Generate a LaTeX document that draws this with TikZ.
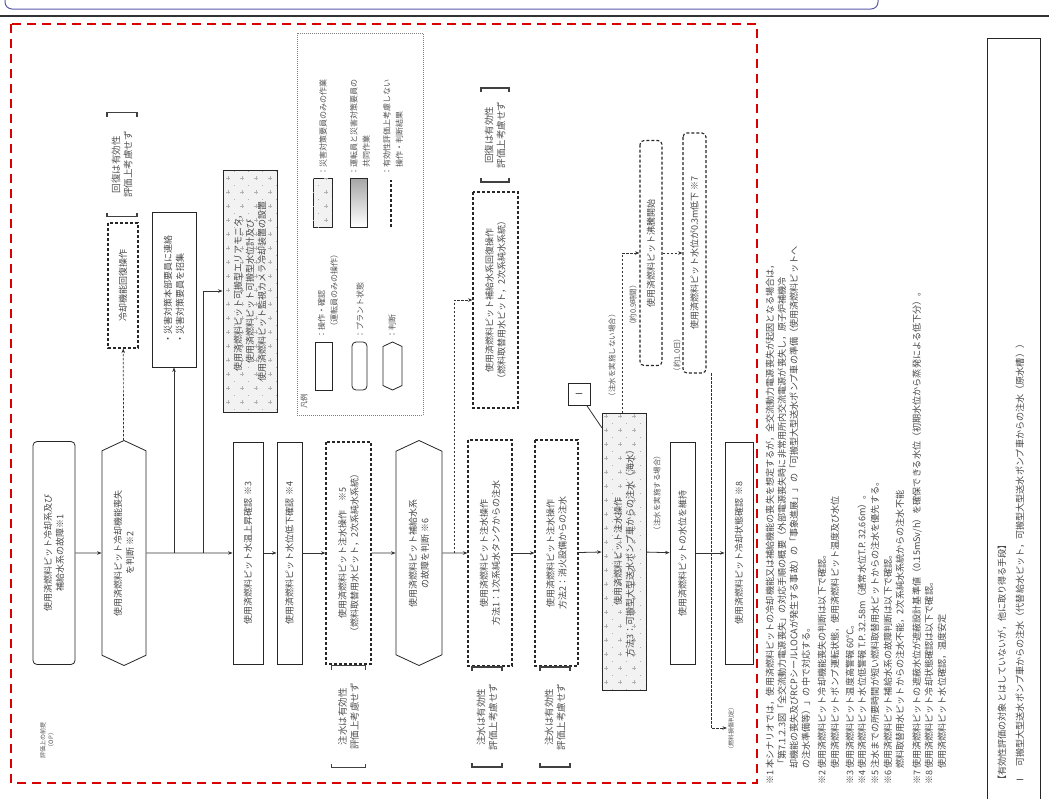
\documentclass[tikz,border=0pt]{standalone}
\usepackage{fontspec}
\setmainfont{Noto Sans CJK JP}
\usetikzlibrary{arrows.meta,shapes.symbols,patterns,calc}
\pgfdeclarepatternformonly{sparseplus}{\pgfpoint{-1pt}{-1pt}}{\pgfpoint{15pt}{15pt}}{\pgfpoint{14pt}{14pt}}{%
  \pgfsetlinewidth{0.4pt}%
  \pgfpathmoveto{\pgfpoint{2pt}{4pt}}\pgfpathlineto{\pgfpoint{6pt}{4pt}}%
  \pgfpathmoveto{\pgfpoint{4pt}{2pt}}\pgfpathlineto{\pgfpoint{4pt}{6pt}}%
  \pgfpathmoveto{\pgfpoint{10pt}{11pt}}\pgfpathlineto{\pgfpoint{11pt}{11pt}}%
  \pgfusepath{stroke}}
\newcommand{\bnote}[6]{%
  \node[notetext] (#1) at (#2,#3) {#6};
  \draw[brk] (#2-#4,#3-#5+4) -- (#2-#4,#3-#5) -- (#2+#4,#3-#5) -- (#2+#4,#3-#5+4);
  \draw[brk] (#2-#4,#3+#5-4) -- (#2-#4,#3+#5) -- (#2+#4,#3+#5) -- (#2+#4,#3+#5-4);
}
\tikzset{
  box/.style={draw=black!85, line width=0.8pt, rotate=90, align=center, inner sep=1pt,
    font=\fontsize{9}{12}\selectfont, text=black!72},
  dbox/.style={box, dash pattern=on 3pt off 2pt, line width=1.1pt},
  rbox/.style={box, rounded corners=4pt},
  drbox/.style={dbox, rounded corners=4pt},
  hexbox/.style={box, shape=signal, signal to=east and west, signal pointer angle=130},
  dotfill/.style={fill=gray!10, postaction={pattern=sparseplus, pattern color=gray!60}},
  flow/.style={draw=black!80, line width=0.8pt, -{Stealth[length=4.5pt,width=3.5pt]}},
  dflow/.style={flow, dash pattern=on 2.5pt off 1.5pt, line width=0.7pt},
  plain/.style={draw=black!80, line width=0.8pt},
  notetext/.style={rotate=90, align=center, inner sep=1pt, font=\fontsize{9.5}{12}\selectfont, text=black!68},
  lab/.style={rotate=90, inner sep=1pt, font=\fontsize{7.5}{9}\selectfont, text=black!68},
  brk/.style={draw=black!75, line width=1.1pt},
  legtext/.style={rotate=90, anchor=west, align=left, inner sep=1pt, font=\fontsize{8}{12.5}\selectfont, text=black!68},
  foot/.style={rotate=90, anchor=west, inner sep=0pt, font=\fontsize{9.1}{11}\selectfont, text=black!72},
  redframe/.style={draw=red!85!black, line width=2.6pt, dash pattern=on 9pt off 6pt},
}
\begin{document}
\begin{tikzpicture}[x=1pt,y=-1pt]
\useasboundingbox (0,0) rectangle (1049,798);
% top header
\draw[draw=blue!30!gray, line width=1pt, rounded corners=7pt] (5,-20) rectangle (878,9);
\draw[black!80, line width=1.3pt] (0,16) -- (1049,16);
% red frame
\draw[redframe] (11,24) rectangle (757,783);

% ---- main flow ----
\node[rbox, minimum width=223pt, minimum height=42pt] (b1) at (54,553) {使用済燃料ピット冷却系及び\\補給水系の故障※1};
\node[hexbox, minimum width=225pt, minimum height=44pt] (h2) at (124,553) {使用済燃料ピット冷却機能喪失\\を判断 ※2};
\node[dbox, minimum width=125pt, minimum height=30pt] (c1) at (123,285.5) {冷却機能回復操作};
\bnote{n1}{122}{164.5}{15}{52}{回復は有効性\\評価上考慮せず}
\node[box, minimum width=155pt, minimum height=44pt, align=left] (bren) at (174,289.5) {・災害対策本部要員に連絡\\・災害対策要員を招集};
\node[box, dotfill, minimum width=242pt, minimum height=54pt] (bmon) at (250,291) {使用済燃料ピット可搬型エリアモニタ，\\使用済燃料ピット可搬型水位計及び\\使用済燃料ピット監視カメラ冷却装置の設置};
\node[box, minimum width=222pt, minimum height=30pt] (b3) at (248,553) {使用済燃料ピット水温上昇確認 ※3};
\node[box, minimum width=222pt, minimum height=25pt] (b4) at (289.5,553) {使用済燃料ピット水位低下確認 ※4};
\node[dbox, minimum width=222pt, minimum height=45pt] (b5) at (348.5,553) {使用済燃料ピット注水操作　※5\\（燃料取替用水ピット，2次系純水系統）};
\bnote{n5}{348.5}{716.5}{17}{51}{注水は有効性\\評価上考慮せず}
\node[hexbox, minimum width=225pt, minimum height=46pt] (h6) at (419,553) {使用済燃料ピット補給水系\\の故障を判断 ※6};
\node[dbox, minimum width=216pt, minimum height=45pt] (bkai) at (495.5,300) {使用済燃料ピット補給水系回復操作\\（燃料取替用水ピット，2次系純水系統）};
\bnote{nk}{495}{135}{14}{47}{回復は有効性\\評価上考慮せず}
\node[dbox, minimum width=226pt, minimum height=44pt] (b7) at (490,553) {使用済燃料ピット注水操作\\方法1：1次系純水タンクからの注水};
\bnote{n7}{487}{717}{15}{50}{注水は有効性\\評価上考慮せず}
\node[dbox, minimum width=226pt, minimum height=43pt] (b8) at (556.5,553) {使用済燃料ピット注水操作\\方法2：消火設備からの注水};
\bnote{n8}{555}{717}{15}{50}{注水は有効性\\評価上考慮せず}
\node[box, dotfill, minimum width=277pt, minimum height=44pt] (b9) at (624,551.5) {使用済燃料ピット注水操作\\方法3：可搬型大型送水ポンプ車からの注水（海水）};
\node[box, minimum width=22pt, minimum height=22pt] (I1) at (579,394) {Ⅰ};
\coordinate (c9l) at (602,428);
\coordinate (c9t) at (622,413);
\node[lab] (lno) at (612,355) {（注水を実施しない場合）};
\node[drbox, minimum width=225pt, minimum height=22pt] (bfut) at (651,253) {使用済燃料ピット沸騰開始};
\node[lab] (lt1) at (633,305) {（約0.9時間）};
\node[drbox, minimum width=240pt, minimum height=23pt] (bsui) at (694.5,253) {使用済燃料ピット水位が0.3m低下 ※7};
\node[lab] (lt2) at (677,355) {（約1.0日）};
\node[box, minimum width=222pt, minimum height=25pt] (biji) at (682.5,553) {使用済燃料ピットの水位を維持};
\node[lab] (lyes) at (657,493) {（注水を実施する場合）};
\node[box, minimum width=222pt, minimum height=28pt] (bkak) at (739,553) {使用済燃料ピット冷却状態確認 ※8};
\coordinate (d1) at (711,373);
\node[lab, font=\fontsize{6}{8}\selectfont] (flab) at (731,728) {（燃料損傷判定）};
\node[lab, align=center, font=\fontsize{6}{8}\selectfont] (opl) at (47,740) {評価上の前提\\（OP）};

% junction coordinates
\coordinate (j1) at (174,553);
\coordinate (j2) at (203,553);
\coordinate (j3) at (454,553);

% connectors
\draw[flow] (b1) -- (h2);
\draw[dflow] (h2) -- (c1);
\draw[flow] (h2) -- (b3);
\draw[flow] (j1) -- (bren);
\draw[flow] (j2) |- (bmon);
\draw[flow] (b3) -- (b4);
\draw[flow] (b4) -- (b5);
\draw[flow] (b5) -- (h6);
\draw[flow] (h6) -- (b7);
\draw[dflow] (j3) |- (bkai);
\draw[flow] (b7) -- (b8);
\draw[flow] (b8) -- (b9);
\draw[plain] (I1) -- (c9l);
\draw[dflow] (c9t) |- (bfut);
\draw[dflow] (bfut) -- (bsui);
\draw[flow] (b9) -- (biji);
\draw[flow] (biji) -- (bkak);
\draw[dflow] (d1) |- (flab);

% ---- legend ----
\draw[gray, line width=0.6pt, dash pattern=on 1pt off 1pt] (297,33) rectangle (423,415);
\node[lab, font=\fontsize{7.5}{9}\selectfont] (legt) at (304,401) {凡例};
\node[box, minimum width=48pt, minimum height=17pt] (L1) at (323.5,366) {};
\node[legtext] (L1t) at (328,340) {：操作・確認\\　（運転員のみの操作）};
\node[rbox, minimum width=48pt, minimum height=15pt] (L2) at (359.5,366) {};
\node[legtext] (L2t) at (360,340) {：プラント状態};
\node[hexbox, minimum width=48pt, minimum height=19pt] (L3) at (392.5,366) {};
\node[legtext] (L3t) at (392,340) {：判断};
\node[box, dotfill, minimum width=49pt, minimum height=19pt] (L4) at (322.5,202.5) {};
\node[legtext] (L4t) at (323,177) {：災害対策要員のみの作業};
\node[box, top color=gray!70, bottom color=white, minimum width=49pt, minimum height=17pt] (L5) at (358.5,202.5) {};
\node[legtext] (L5t) at (360,177) {：運転員と災害対策要員の\\　共同作業};
\coordinate (L6a) at (391,227);
\coordinate (L6b) at (391,180);
\draw[draw=black!85, line width=1.1pt, dash pattern=on 3pt off 2pt] (L6a) -- (L6b);
\node[legtext] (L6t) at (393,177) {：有効性評価上考慮しない\\　操作・判断結果};

% ---- footnotes ----
\node[foot] at (770,785) {※1};
\node[foot] at (770,769) {本シナリオでは，使用済燃料ピットの冷却機能又は補給機能の喪失を想定するが，全交流動力電源喪失が起因となる場合は，};
\node[foot] at (782,769) {「第7.1.2.3図「全交流動力電源喪失」の対応手順の概要（外部電源喪失時に非常用所内交流電源が喪失し，原子炉補機冷};
\node[foot] at (794,769) {却機能の喪失及びRCPシールLOCAが発生する事故）の「事象進展」」の「可搬型大型送水ポンプ車の準備（使用済燃料ピットへ};
\node[foot] at (806,769) {の注水準備等）」の中で対応する。};
\node[foot] at (822,785) {※2};
\node[foot] at (822,769) {使用済燃料ピット冷却機能喪失の判断は以下で確認。};
\node[foot] at (835,769) {使用済燃料ピットポンプ運転状態，使用済燃料ピット温度及び水位};
\node[foot] at (850,785) {※3};
\node[foot] at (850,769) {使用済燃料ピット温度高警報 60℃。};
\node[foot] at (862,785) {※4};
\node[foot] at (862,769) {使用済燃料ピット水位低警報 T.P. 32.58m（通常水位T.P. 32.66m）。};
\node[foot] at (875,785) {※5};
\node[foot] at (875,769) {注水までの所要時間が短い燃料取替用水ピットからの注水を優先する。};
\node[foot] at (888,785) {※6};
\node[foot] at (888,769) {使用済燃料ピット補給水系の故障判断は以下で確認。};
\node[foot] at (900,769) {燃料取替用水ピットからの注水不能，2次系純水系統からの注水不能};
\node[foot] at (917,785) {※7};
\node[foot] at (917,769) {使用済燃料ピットの遮蔽水位が遮蔽設計基準値（0.15mSv/h）を確保できる水位（初期水位から蒸発による低下分）。};
\node[foot] at (929,785) {※8};
\node[foot] at (929,769) {使用済燃料ピット冷却状態確認は以下で確認。};
\node[foot] at (942,769) {使用済燃料ピット水位確認，温度安定};

% ---- right box ----
\draw[black!85, line width=0.8pt] (987,38) rectangle (1040,812);
\node[foot] at (1002,785) {【有効性評価の対象とはしていないが，他に取り得る手段】};
\node[foot] at (1020,785) {Ⅰ　可搬型大型送水ポンプ車からの注水（代替給水ピット，可搬型大型送水ポンプ車からの注水（原水槽））};
\end{tikzpicture}
\end{document}
